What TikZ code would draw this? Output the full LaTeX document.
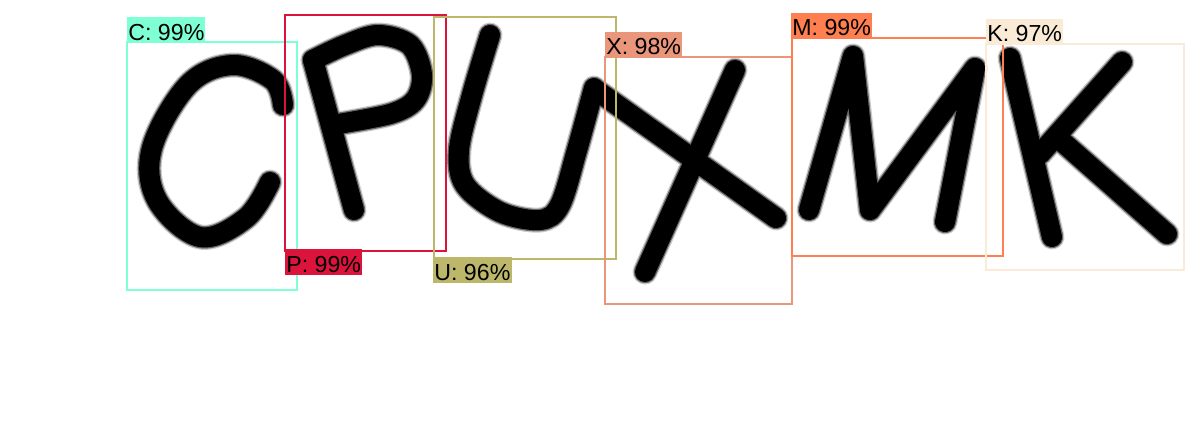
\documentclass[tikz,border=0pt]{standalone}
\usepackage{fontspec}
\setmainfont{Liberation Sans}
\definecolor{cC}{HTML}{7FFFD4}
\definecolor{cP}{HTML}{DC143C}
\definecolor{cU}{HTML}{BDB76B}
\definecolor{cX}{HTML}{E9967A}
\definecolor{cM}{HTML}{FF7F50}
\definecolor{cK}{HTML}{FAEBD7}
\newcommand\inkpaths[1]{%
  % C
  \draw[#1] plot[smooth, tension=0.6] coordinates {(283,105) (273,80) (232,65) (188,85) (152,148) (157,200) (200,237) (246,218) (270,182)};
  % P
  \draw[#1] (354,210) -- (313,60);
  \draw[#1] plot[smooth, tension=0.55] coordinates {(313,60) (345,45) (378,35) (410,45) (422,75) (415,100) (390,114) (332,125)};
  % U
  \draw[#1] plot[smooth, tension=0.55] coordinates {(490,35) (472,95) (459,150) (465,185) (500,212) (540,220) (560,205) (577,150) (594,88)};
  % X
  \draw[#1] (596,90) -- (776,218);
  \draw[#1] (735,70) -- (645,272);
  % M
  \draw[#1] (809,210) -- (853,56) -- (870,210) -- (975,68) -- (945,222);
  % K
  \draw[#1] (1010,58) -- (1052,237);
  \draw[#1] (1122,62) -- (1040,154);
  \draw[#1] (1058,138) -- (1167,234);
}
\tikzset{
  blurA/.style={draw=black!20, line width=0.50cm, line cap=round, line join=round},
  blurB/.style={draw=black!60, line width=0.45cm, line cap=round, line join=round},
  inkcore/.style={draw=black, line width=0.40cm, line cap=round, line join=round},
  detbox/.style={line width=0.04cm},
  lbl/.style={anchor=base west, inner sep=0pt, text=black, font=\fontsize{13.2}{15}\selectfont},
}
\begin{document}
\begin{tikzpicture}[x=0.02cm, y=-0.02cm]
\useasboundingbox (0,0) rectangle (1200,420);
\fill[white] (0,0) rectangle (1200,420);
% letters, drawn in three passes for soft edges
\inkpaths{blurA}
\inkpaths{blurB}
\inkpaths{inkcore}
% detections
\draw[detbox, cC] (127,42) rectangle (297,290);
\fill[cC] (127,17) rectangle (205,42);
\node[lbl] (lC) at (128,40) {C: 99\%};
\draw[detbox, cP] (285,15) rectangle (446,251);
\fill[cP] (285,249) rectangle (362,275);
\node[lbl] (lP) at (286,272.5) {P: 99\%};
\draw[detbox, cU] (434,17) rectangle (616,259);
\fill[cU] (433,257) rectangle (512,283);
\node[lbl] (lU) at (434,280.5) {U: 96\%};
\draw[detbox, cX] (605,57) rectangle (792,304);
\fill[cX] (605,32) rectangle (682,57);
\node[lbl] (lX) at (606,54.5) {X: 98\%};
\draw[detbox, cM] (792,38) rectangle (1003,256);
\fill[cM] (791,13) rectangle (872,38);
\node[lbl] (lM) at (792,35.5) {M: 99\%};
\draw[detbox, cK] (986,44) rectangle (1184,270);
\fill[cK] (986,19) rectangle (1063,44);
\node[lbl] (lK) at (987,41.5) {K: 97\%};
\end{tikzpicture}
\end{document}
